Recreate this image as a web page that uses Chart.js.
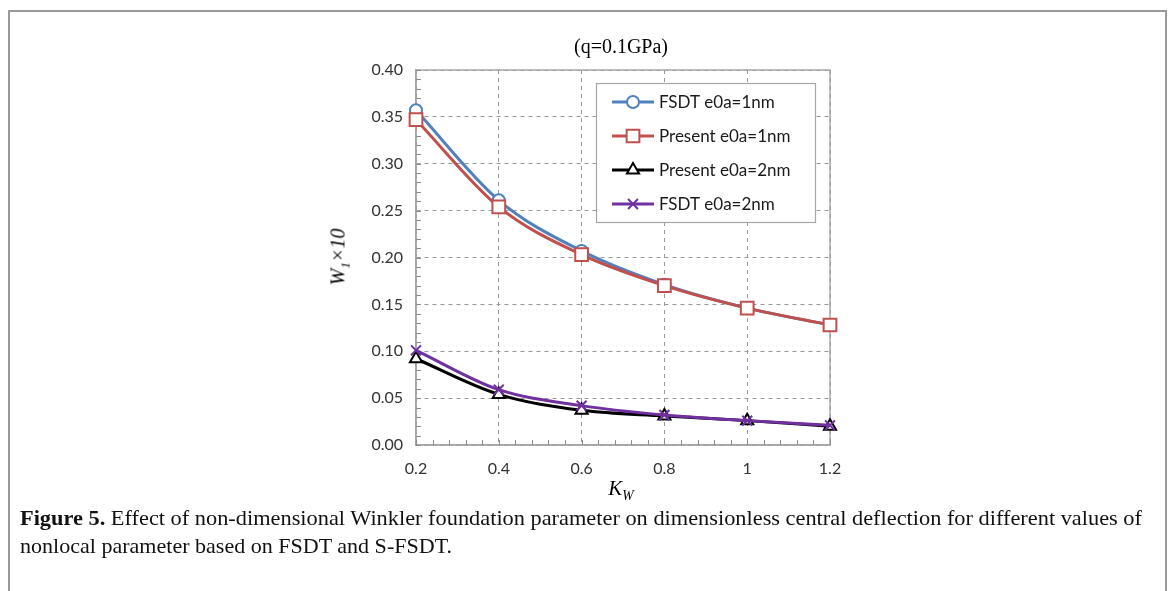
<!DOCTYPE html>
<html>
<head>
<meta charset="utf-8">
<script src="https://cdn.jsdelivr.net/npm/chart.js@4/dist/chart.umd.min.js"></script>
<style>
  body { margin: 0; background: #fff; width: 1169px; height: 591px; overflow: hidden; position: relative; }
  #frame { position: absolute; left: 8px; top: 10px; width: 1155px; height: 600px; border-left: 2px solid #999; border-top: 2px solid #999; border-right: 2px solid #999; }
  #chart { position: absolute; left: 0; top: 0; }
  .lbl { position: absolute; font-family: "Liberation Serif", "DejaVu Serif", serif; color: #000; white-space: nowrap; }
  #title { left: 0; width: 1242px; top: 35px; font-size: 20px; text-align: center; }
  #ylab { left: 340px; top: 257px; font-size: 20px; font-style: italic; transform: translate(-50%, -50%) rotate(-90deg); }
  #xlab { left: 621px; top: 490px; font-size: 21px; font-style: italic; transform: translate(-50%, -50%); }
  sub { font-size: 65%; }
  .cap { position: absolute; left: 20px; font-family: "Liberation Serif", serif; font-size: 21px; color: #111; white-space: nowrap; transform-origin: 0 0; }
</style>
</head>
<body>
<div id="frame"></div>
<canvas id="chart" width="1169" height="591"></canvas>
<div class="lbl" id="title">(q=0.1GPa)</div>
<div class="lbl" id="ylab">W<sub>1</sub>×10</div>
<div class="lbl" id="xlab">K<sub>W</sub></div>
<div class="cap" id="cap1" data-w="1122" style="top:506px"><b>Figure 5.</b> Effect of non-dimensional Winkler foundation parameter on dimensionless central deflection for different values of</div>
<div class="cap" id="cap2" data-w="432" style="top:534px">nonlocal parameter based on FSDT and S-FSDT.</div>
<script>
// K_W values
const kw = [0.2, 0.4, 0.6, 0.8, 1.0, 1.2];
const xTickLabels = ['0.2', '0.4', '0.6', '0.8', '1', '1.2'];
const yTickLabels = ['0.00', '0.05', '0.10', '0.15', '0.20', '0.25', '0.30', '0.35', '0.40'];

// W1 x 10
const fsdt1 = [0.357, 0.261, 0.207, 0.171, 0.146, 0.128];
const present1 = [0.347, 0.254, 0.203, 0.170, 0.146, 0.128];
const present2 = [0.092, 0.054, 0.037, 0.031, 0.026, 0.020];
const fsdt2 = [0.101, 0.059, 0.042, 0.032, 0.026, 0.021];

const seriesNames = ['FSDT e0a=1nm', 'Present e0a=1nm', 'Present e0a=2nm', 'FSDT e0a=2nm'];

function pts(ys) {
    return ys.map(function (y, i) { return { x: kw[i], y: y }; });
}

function makeSet(name, ys, color, style, r, order) {
    return {
        label: name,
        data: pts(ys),
        borderColor: color,
        backgroundColor: color,
        borderWidth: 3,
        pointStyle: style,
        pointRadius: r,
        pointBorderWidth: 2,
        pointBorderColor: color,
        pointBackgroundColor: style === 'crossRot' ? color : '#fff',
        cubicInterpolationMode: 'monotone',
        clip: false,
        order: order
    };
}

const datasets = [
    makeSet(seriesNames[0], fsdt1, '#4F81BD', 'circle', 6, 1),
    makeSet(seriesNames[1], present1, '#C0504D', 'rect', 9, 0),
    makeSet(seriesNames[2], present2, '#000000', 'triangle', 7, 1),
    makeSet(seriesNames[3], fsdt2, '#7030A0', 'crossRot', 7, 0)
];

// plot frame, minor ticks and the legend box
const decor = {
    id: 'decor',
    beforeDatasetsDraw: function (chart) {
        const ctx = chart.ctx, a = chart.chartArea;
        const xs = chart.scales.x, ys = chart.scales.y;
        ctx.save();
        ctx.strokeStyle = '#a6a6a6';
        ctx.lineWidth = 1.5;
        ctx.strokeRect(a.left, a.top, a.right - a.left, a.bottom - a.top);
        ctx.lineWidth = 1;
        ctx.strokeStyle = '#8c8c8c';
        ctx.beginPath();
        for (let v = 0; v <= 0.4001; v += 0.01) {
            const p = Math.round(ys.getPixelForValue(v)) + 0.5;
            ctx.moveTo(a.left, p); ctx.lineTo(a.left + 5, p);
        }
        for (let v = 0.2; v <= 1.2001; v += 0.04) {
            const p = Math.round(xs.getPixelForValue(v)) + 0.5;
            ctx.moveTo(p, a.bottom); ctx.lineTo(p, a.bottom - 5);
        }
        ctx.stroke();
        ctx.restore();
    },
    afterDraw: function (chart) {
        const ctx = chart.ctx;
        const bx = 596, by = 83, bw = 219, bh = 139;
        ctx.save();
        ctx.fillStyle = '#fff';
        ctx.fillRect(bx, by, bw, bh);
        ctx.strokeStyle = '#a6a6a6';
        ctx.lineWidth = 1.2;
        ctx.strokeRect(bx + 0.5, by + 0.5, bw, bh);
        ctx.font = '17px Lato, "Liberation Sans", sans-serif';
        ctx.textBaseline = 'middle';
        chart.data.datasets.forEach(function (ds, i) {
            const y = 102 + i * 34;
            ctx.strokeStyle = ds.borderColor;
            ctx.lineWidth = 3;
            ctx.beginPath();
            ctx.moveTo(612, y); ctx.lineTo(654, y);
            ctx.stroke();
            ctx.lineWidth = 2;
            ctx.fillStyle = '#fff';
            ctx.strokeStyle = ds.borderColor;
            Chart.helpers.drawPoint(ctx, { pointStyle: ds.pointStyle, radius: ds.pointRadius, borderWidth: 2 }, 633, y);
            ctx.fillStyle = '#1a1a1a';
            ctx.fillText(ds.label, 659, y + 1);
        });
        ctx.restore();
    }
};

new Chart(document.getElementById('chart'), {
    type: 'line',
    data: { datasets: datasets },
    plugins: [decor],
    options: {
        responsive: false,
        animation: false,
        layout: { padding: { left: 366, right: 339, top: 70, bottom: 111 } },
        plugins: { legend: { display: false }, tooltip: { enabled: false } },
        scales: {
            x: {
                type: 'linear',
                min: 0.2, max: 1.2,
                afterFit: function (s) { s.height = 35; },
                afterBuildTicks: function (s) { s.ticks = kw.map(function (v) { return { value: v }; }); },
                grid: { drawTicks: false, color: '#999', lineWidth: 1 },
                border: { display: true, color: '#a6a6a6', width: 1.5, dash: [4, 4] },
                ticks: {
                    padding: 14,
                    color: '#333',
                    font: { family: 'Lato', size: 16 },
                    callback: function (v, i) { return xTickLabels[i]; }
                }
            },
            y: {
                min: 0, max: 0.4,
                afterFit: function (s) { s.width = 50; },
                grid: { drawTicks: false, color: '#999', lineWidth: 1 },
                border: { display: true, color: '#a6a6a6', width: 1.5, dash: [4, 4] },
                ticks: {
                    stepSize: 0.05,
                    padding: 13,
                    color: '#333',
                    font: { family: 'Lato', size: 16 },
                    callback: function (v, i) { return yTickLabels[i]; }
                }
            }
        }
    }
});

// fit caption lines to their measured widths
document.querySelectorAll('.cap').forEach(function (el) {
    const w = el.getBoundingClientRect().width;
    const target = parseFloat(el.getAttribute('data-w'));
    el.style.transform = 'scaleX(' + (target / w) + ')';
});
</script>
</body>
</html>
